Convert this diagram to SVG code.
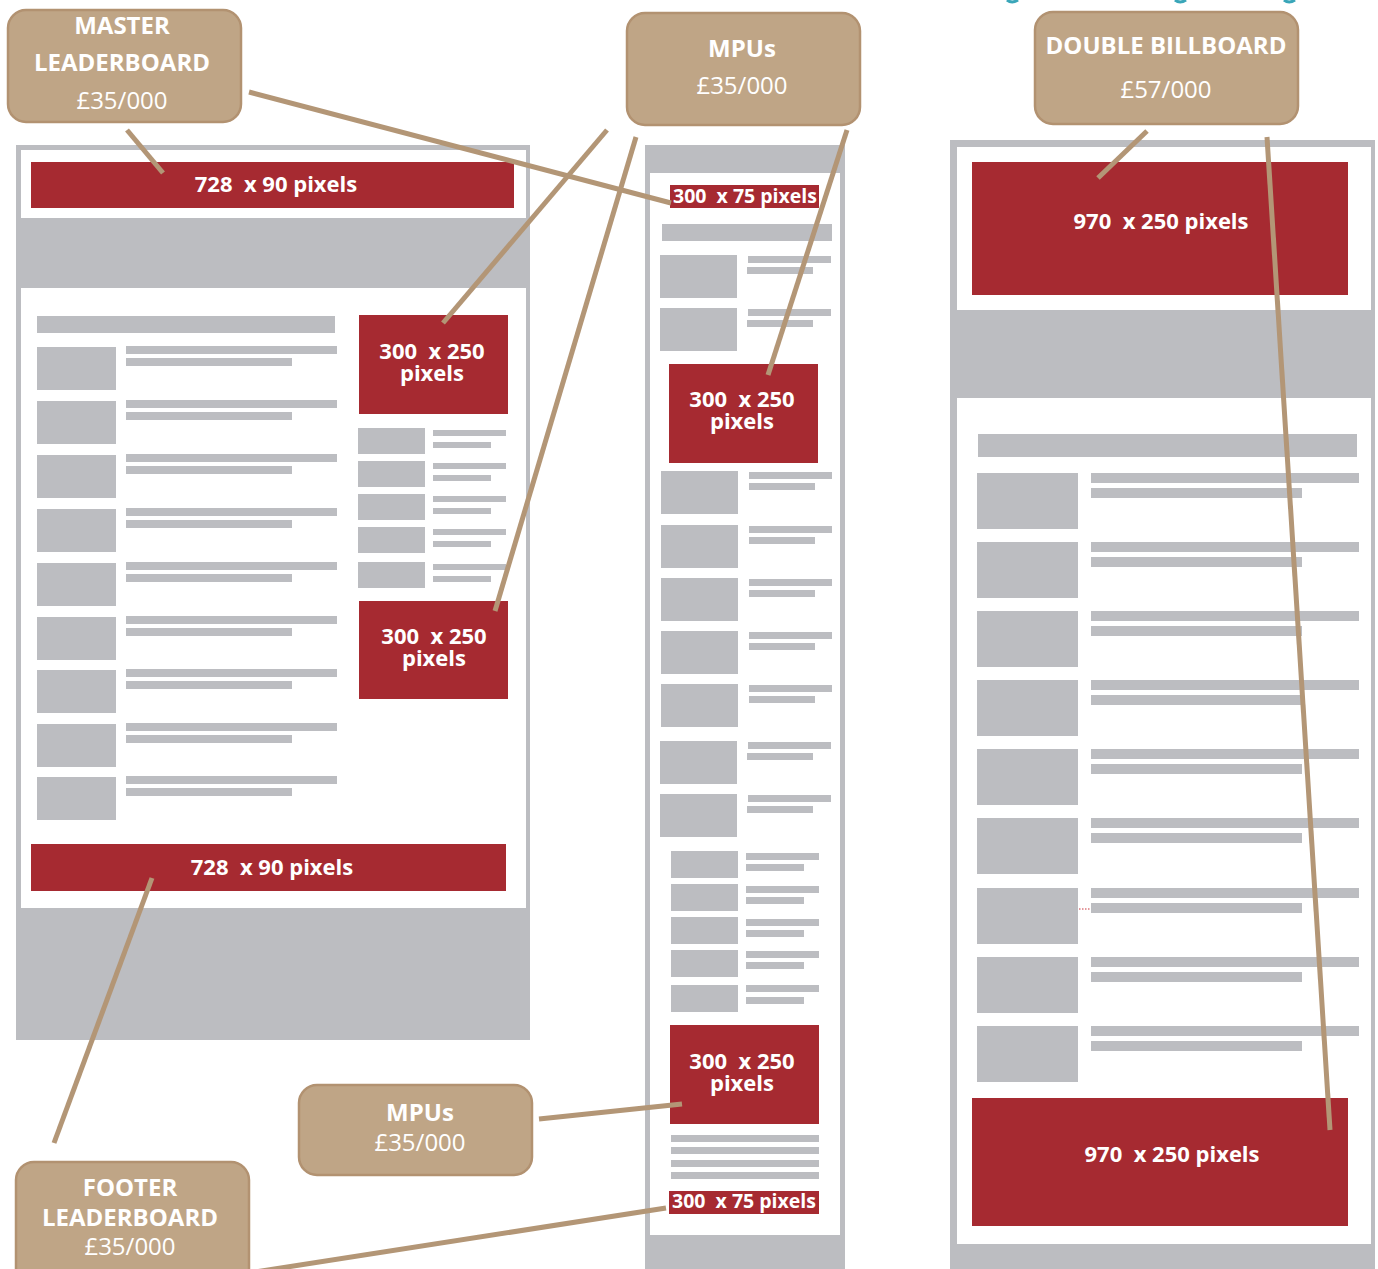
<svg xmlns="http://www.w3.org/2000/svg" width="1378" height="1269" viewBox="0 0 1378 1269">
<style>
.g{fill:#BCBDC1}
.w{fill:#FFFFFF}
.ad{fill:#A62A31}
.adt{font-family:"Open Sans","Liberation Sans",sans-serif;font-weight:700;fill:#FFFFFF;text-anchor:middle;white-space:pre}
.node rect{fill:#BFA586;stroke:#B29271;stroke-width:2.5}
.nt{font-family:"Open Sans","Liberation Sans",sans-serif;fill:#FFFFFF;text-anchor:middle;font-size:24px}
.b{font-weight:700}
#connectors line{stroke:#B39676;stroke-width:5;stroke-linecap:butt}
.teal{fill:none;stroke:#3AA6B9;stroke-width:3}
</style>
<rect width="1378" height="1269" fill="#FFFFFF"/>
<path class="teal" d="M1007 0 Q1012 4 1018 0"/>
<path class="teal" d="M1175 0 Q1180 4 1186 0"/>
<path class="teal" d="M1284 0 Q1289 4 1295 0"/>

<g id="page-left">
<rect class="g" x="16" y="145" width="514" height="895"/>
<rect class="w" x="21" y="150" width="505" height="68"/>
<rect class="w" x="21" y="288" width="505" height="620"/>
<rect class="ad" x="31" y="162" width="483" height="46"/>
<text class="adt" x="276" y="192" font-size="22" xml:space="preserve">728  x 90 pixels</text>
<rect class="g" x="37" y="316" width="298" height="17"/>
<g class="g">
<rect x="37" y="347" width="79" height="43"/><rect x="126" y="346" width="211" height="8"/><rect x="126" y="358" width="166" height="8"/>
<rect x="37" y="401" width="79" height="43"/><rect x="126" y="400" width="211" height="8"/><rect x="126" y="412" width="166" height="8"/>
<rect x="37" y="455" width="79" height="43"/><rect x="126" y="454" width="211" height="8"/><rect x="126" y="466" width="166" height="8"/>
<rect x="37" y="509" width="79" height="43"/><rect x="126" y="508" width="211" height="8"/><rect x="126" y="520" width="166" height="8"/>
<rect x="37" y="563" width="79" height="43"/><rect x="126" y="562" width="211" height="8"/><rect x="126" y="574" width="166" height="8"/>
<rect x="37" y="617" width="79" height="43"/><rect x="126" y="616" width="211" height="8"/><rect x="126" y="628" width="166" height="8"/>
<rect x="37" y="670" width="79" height="43"/><rect x="126" y="669" width="211" height="8"/><rect x="126" y="681" width="166" height="8"/>
<rect x="37" y="724" width="79" height="43"/><rect x="126" y="723" width="211" height="8"/><rect x="126" y="735" width="166" height="8"/>
<rect x="37" y="777" width="79" height="43"/><rect x="126" y="776" width="211" height="8"/><rect x="126" y="788" width="166" height="8"/>
<rect x="358" y="428" width="67" height="26"/><rect x="433" y="430" width="73" height="6"/><rect x="433" y="442" width="58" height="6"/>
<rect x="358" y="461" width="67" height="26"/><rect x="433" y="463" width="73" height="6"/><rect x="433" y="475" width="58" height="6"/>
<rect x="358" y="494" width="67" height="26"/><rect x="433" y="496" width="73" height="6"/><rect x="433" y="508" width="58" height="6"/>
<rect x="358" y="527" width="67" height="26"/><rect x="433" y="529" width="73" height="6"/><rect x="433" y="541" width="58" height="6"/>
<rect x="358" y="562" width="67" height="26"/><rect x="433" y="564" width="73" height="6"/><rect x="433" y="576" width="58" height="6"/>
</g>
<rect class="ad" x="359" y="315" width="149" height="99"/>
<text class="adt" x="432" y="359" font-size="22" xml:space="preserve">300  x 250</text>
<text class="adt" x="432" y="381" font-size="22">pixels</text>
<rect class="ad" x="359" y="601" width="149" height="98"/>
<text class="adt" x="434" y="644" font-size="22" xml:space="preserve">300  x 250</text>
<text class="adt" x="434" y="666" font-size="22">pixels</text>
<rect class="ad" x="31" y="844" width="475" height="47"/>
<text class="adt" x="272" y="875" font-size="22" xml:space="preserve">728  x 90 pixels</text>
</g>

<g id="page-middle">
<rect class="g" x="645" y="145" width="200" height="1124"/>
<rect class="w" x="650" y="173" width="190" height="1062"/>
<rect class="ad" x="670" y="185" width="149" height="23"/>
<text class="adt" x="745" y="203" font-size="19.5" xml:space="preserve">300  x 75 pixels</text>
<g class="g">
<rect x="662" y="224" width="170" height="17"/>
<rect x="660" y="255" width="77" height="43"/><rect x="748" y="256" width="83" height="7"/><rect x="747" y="267" width="66" height="7"/>
<rect x="660" y="308" width="77" height="43"/><rect x="748" y="309" width="83" height="7"/><rect x="747" y="320" width="66" height="7"/>
<rect x="661" y="471" width="77" height="43"/><rect x="749" y="472" width="83" height="7"/><rect x="749" y="483" width="66" height="7"/>
<rect x="661" y="525" width="77" height="43"/><rect x="749" y="526" width="83" height="7"/><rect x="749" y="537" width="66" height="7"/>
<rect x="661" y="578" width="77" height="43"/><rect x="749" y="579" width="83" height="7"/><rect x="749" y="590" width="66" height="7"/>
<rect x="661" y="631" width="77" height="43"/><rect x="749" y="632" width="83" height="7"/><rect x="749" y="643" width="66" height="7"/>
<rect x="661" y="684" width="77" height="43"/><rect x="749" y="685" width="83" height="7"/><rect x="749" y="696" width="66" height="7"/>
<rect x="660" y="741" width="77" height="43"/><rect x="748" y="742" width="83" height="7"/><rect x="747" y="753" width="66" height="7"/>
<rect x="660" y="794" width="77" height="43"/><rect x="748" y="795" width="83" height="7"/><rect x="747" y="806" width="66" height="7"/>
<rect x="671" y="851" width="67" height="27"/><rect x="746" y="853" width="73" height="7"/><rect x="746" y="864" width="58" height="7"/>
<rect x="671" y="884" width="67" height="27"/><rect x="746" y="886" width="73" height="7"/><rect x="746" y="897" width="58" height="7"/>
<rect x="671" y="917" width="67" height="27"/><rect x="746" y="919" width="73" height="7"/><rect x="746" y="930" width="58" height="7"/>
<rect x="671" y="950" width="67" height="27"/><rect x="746" y="951" width="73" height="7"/><rect x="746" y="962" width="58" height="7"/>
<rect x="671" y="985" width="67" height="27"/><rect x="746" y="985" width="73" height="7"/><rect x="746" y="997" width="58" height="7"/>
<rect x="671" y="1135" width="148" height="7"/>
<rect x="671" y="1147" width="148" height="7"/>
<rect x="671" y="1160" width="148" height="7"/>
<rect x="671" y="1172" width="148" height="7"/>
</g>
<rect class="ad" x="669" y="364" width="149" height="99"/>
<text class="adt" x="742" y="407" font-size="22" xml:space="preserve">300  x 250</text>
<text class="adt" x="742" y="429" font-size="22">pixels</text>
<rect class="ad" x="670" y="1025" width="149" height="99"/>
<text class="adt" x="742" y="1069" font-size="22" xml:space="preserve">300  x 250</text>
<text class="adt" x="742" y="1091" font-size="22">pixels</text>
<rect class="ad" x="669" y="1191" width="150" height="23"/>
<text class="adt" x="744" y="1208" font-size="19.5" xml:space="preserve">300  x 75 pixels</text>
</g>

<g id="page-right">
<rect class="g" x="950" y="140" width="425" height="1129"/>
<rect class="w" x="957" y="147" width="414" height="163"/>
<rect class="w" x="957" y="398" width="414" height="846"/>
<rect class="ad" x="972" y="162" width="376" height="133"/>
<text class="adt" x="1161" y="229" font-size="22" xml:space="preserve">970  x 250 pixels</text>
<g class="g">
<rect x="978" y="434" width="379" height="23"/>
<rect x="977" y="473" width="101" height="56"/><rect x="1091" y="473" width="268" height="10"/><rect x="1091" y="488" width="211" height="10"/>
<rect x="977" y="542" width="101" height="56"/><rect x="1091" y="542" width="268" height="10"/><rect x="1091" y="557" width="211" height="10"/>
<rect x="977" y="611" width="101" height="56"/><rect x="1091" y="611" width="268" height="10"/><rect x="1091" y="626" width="211" height="10"/>
<rect x="977" y="680" width="101" height="56"/><rect x="1091" y="680" width="268" height="10"/><rect x="1091" y="695" width="211" height="10"/>
<rect x="977" y="749" width="101" height="56"/><rect x="1091" y="749" width="268" height="10"/><rect x="1091" y="764" width="211" height="10"/>
<rect x="977" y="818" width="101" height="56"/><rect x="1091" y="818" width="268" height="10"/><rect x="1091" y="833" width="211" height="10"/>
<rect x="977" y="888" width="101" height="56"/><rect x="1091" y="888" width="268" height="10"/><rect x="1091" y="903" width="211" height="10"/>
<rect x="977" y="957" width="101" height="56"/><rect x="1091" y="957" width="268" height="10"/><rect x="1091" y="972" width="211" height="10"/>
<rect x="977" y="1026" width="101" height="56"/><rect x="1091" y="1026" width="268" height="10"/><rect x="1091" y="1041" width="211" height="10"/>
</g>
<line x1="1079" y1="909" x2="1091" y2="909" stroke="#C8323A" stroke-width="1" stroke-dasharray="1.5 1.5"/>
<rect class="ad" x="972" y="1098" width="376" height="128"/>
<text class="adt" x="1172" y="1162" font-size="22" xml:space="preserve">970  x 250 pixels</text>
</g>

<g id="connectors">
<line x1="127" y1="130" x2="163" y2="173"/>
<line x1="249" y1="92" x2="671" y2="203"/>
<line x1="607" y1="130" x2="443" y2="323"/>
<line x1="636" y1="137" x2="495" y2="611"/>
<line x1="847" y1="130" x2="768" y2="375"/>
<line x1="1147" y1="131" x2="1098" y2="178"/>
<line x1="1267" y1="137" x2="1330" y2="1130"/>
<line x1="152" y1="878" x2="54" y2="1143"/>
<line x1="539" y1="1119" x2="682" y2="1104"/>
<line x1="255" y1="1272" x2="666" y2="1208"/>
</g>

<g id="node-master-leaderboard" class="node">
<rect x="8" y="10" width="233" height="112" rx="18"/>
<text class="nt b" x="122" y="34" font-size="24.5">MASTER</text>
<text class="nt b" x="122" y="71" font-size="24.5">LEADERBOARD</text>
<text class="nt" x="122" y="109">£35/000</text>
</g>
<g id="node-mpus-top" class="node">
<rect x="627" y="13" width="233" height="112" rx="18"/>
<text class="nt b" x="742" y="57">MPUs</text>
<text class="nt" x="742" y="94">£35/000</text>
</g>
<g id="node-double-billboard" class="node">
<rect x="1035" y="12" width="263" height="112" rx="18"/>
<text class="nt b" x="1166" y="54">DOUBLE BILLBOARD</text>
<text class="nt" x="1166" y="98">£57/000</text>
</g>
<g id="node-mpus-bottom" class="node">
<rect x="299" y="1085" width="233" height="90" rx="18"/>
<text class="nt b" x="420" y="1121">MPUs</text>
<text class="nt" x="420" y="1151">£35/000</text>
</g>
<g id="node-footer-leaderboard" class="node">
<rect x="16" y="1162" width="233" height="130" rx="18"/>
<text class="nt b" x="130" y="1196">FOOTER</text>
<text class="nt b" x="130" y="1226">LEADERBOARD</text>
<text class="nt" x="130" y="1255">£35/000</text>
</g>
</svg>
